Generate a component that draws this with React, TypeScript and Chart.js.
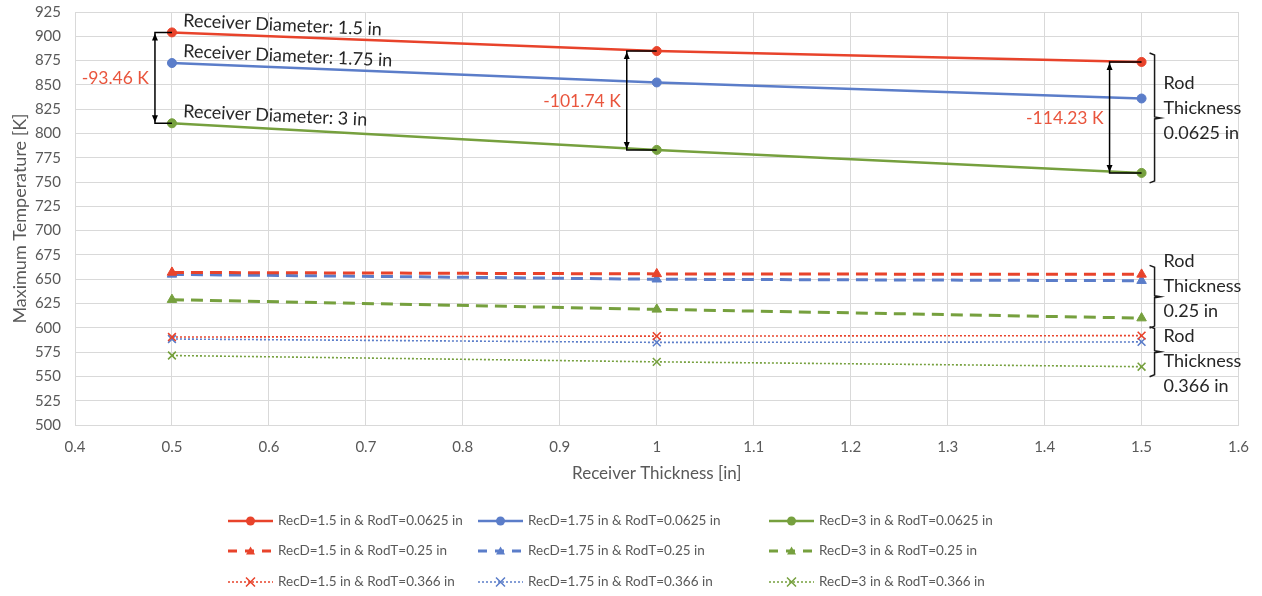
import React, { useEffect, useRef } from 'react';
import { Chart, registerables } from 'chart.js';

Chart.register(...registerables);

// ---------------- data ----------------
const receiverThickness = [0.5, 1.0, 1.5];

const recD15_rodT0625 = [904.0, 884.8, 873.6];
const recD175_rodT0625 = [872.5, 852.5, 836.0];
const recD3_rodT0625 = [810.5, 783.1, 759.4];

const recD15_rodT025 = [657.0, 655.5, 655.0];
const recD175_rodT025 = [655.0, 650.0, 648.5];
const recD3_rodT025 = [629.0, 619.0, 610.0];

const recD15_rodT0366 = [590.5, 591.5, 592.0];
const recD175_rodT0366 = [588.5, 585.0, 585.5];
const recD3_rodT0366 = [571.5, 565.0, 560.0];

const seriesLabels = [
  'RecD=1.5 in & RodT=0.0625 in',
  'RecD=1.75 in & RodT=0.0625 in',
  'RecD=3 in & RodT=0.0625 in',
  'RecD=1.5 in & RodT=0.25 in',
  'RecD=1.75 in & RodT=0.25 in',
  'RecD=3 in & RodT=0.25 in',
  'RecD=1.5 in & RodT=0.366 in',
  'RecD=1.75 in & RodT=0.366 in',
  'RecD=3 in & RodT=0.366 in',
];

const diameterLabels = ['Receiver Diameter: 1.5 in', 'Receiver Diameter: 1.75 in', 'Receiver Diameter: 3 in'];
const differenceLabels = ['-93.46 K', '-101.74 K', '-114.23 K'];
const rodThicknessLabels = ['0.0625 in', '0.25 in', '0.366 in'];

const xMin = 0.4;
const xMax = 1.6;
const xStep = 0.1;
const yMin = 500;
const yMax = 925;
const yStep = 25;

const xTitle = 'Receiver Thickness [in]';
const yTitle = 'Maximum Temperature [K]';

// ---------------- styles ----------------
const RED = '#E8432B';
const BLUE = '#5B7DC9';
const GREEN = '#76A03E';
const ANNOT_RED = '#E9553D';
const GRID = '#D9D9D9';
const TICK = '#595959';
const FONT = 'Lato, "Open Sans", "Noto Sans", sans-serif';

type Kind = 'solid' | 'dash' | 'dot';

function makeSet(label: string, values: number[], color: string, kind: Kind) {
  return {
    label,
    data: receiverThickness.map((x, i) => ({ x, y: values[i] })),
    borderColor: color,
    backgroundColor: color,
    pointBackgroundColor: color,
    pointBorderColor: color,
    borderWidth: kind === 'solid' ? 2.5 : kind === 'dash' ? 3 : 1.6,
    borderDash: kind === 'solid' ? [] : kind === 'dash' ? [12, 7] : [2, 2],
    pointStyle: kind === 'solid' ? 'circle' : kind === 'dash' ? 'triangle' : 'crossRot',
    pointRadius: kind === 'solid' ? 4.5 : 5.5,
    pointBorderWidth: kind === 'dot' ? 1.6 : 1,
    tension: 0,
    fill: false,
    kind,
  };
}

function drawMarker(ctx: CanvasRenderingContext2D, kind: Kind, x: number, y: number, r: number, color: string) {
  ctx.save();
  ctx.setLineDash([]);
  ctx.fillStyle = color;
  ctx.strokeStyle = color;
  ctx.beginPath();
  if (kind === 'solid') {
    ctx.arc(x, y, r, 0, Math.PI * 2);
    ctx.fill();
  } else if (kind === 'dash') {
    ctx.moveTo(x, y - r);
    ctx.lineTo(x + r, y + r * 0.8);
    ctx.lineTo(x - r, y + r * 0.8);
    ctx.closePath();
    ctx.fill();
  } else {
    ctx.lineWidth = 1.5;
    ctx.moveTo(x - r, y - r);
    ctx.lineTo(x + r, y + r);
    ctx.moveTo(x + r, y - r);
    ctx.lineTo(x - r, y + r);
    ctx.stroke();
  }
  ctx.restore();
}

const annotationPlugin = {
  id: 'annotations',
  afterDatasetsDraw(chart: any) {
    const ctx: CanvasRenderingContext2D = chart.ctx;
    const xs = chart.scales.x;
    const ys = chart.scales.y;
    const sets = chart.data.datasets;
    const pt = (di: number, i: number) => ({
      x: xs.getPixelForValue(sets[di].data[i].x),
      y: ys.getPixelForValue(sets[di].data[i].y),
    });

    ctx.save();
    // Receiver diameter labels
    ctx.font = `18px ${FONT}`;
    ctx.fillStyle = '#262626';
    ctx.textAlign = 'left';
    ctx.textBaseline = 'alphabetic';
    for (let d = 0; d < 3; d++) {
      const p = pt(d, 0);
      ctx.save();
      ctx.translate(p.x + 11, p.y - 6);
      ctx.rotate((2.6 * Math.PI) / 180);
      ctx.fillText(diameterLabels[d], 0, 0);
      ctx.restore();
    }

    // Difference arrows
    const arrowOffsets = [17, 30, 32];
    for (let i = 0; i < 3; i++) {
      const top = pt(0, i);
      const bot = pt(2, i);
      const ax = top.x - arrowOffsets[i];
      ctx.strokeStyle = '#000';
      ctx.fillStyle = '#000';
      ctx.lineWidth = 1.5;
      ctx.setLineDash([]);
      ctx.beginPath();
      ctx.moveTo(top.x, top.y);
      ctx.lineTo(ax, top.y);
      ctx.lineTo(ax, bot.y);
      ctx.lineTo(bot.x, bot.y);
      ctx.stroke();
      // arrowheads
      ctx.beginPath();
      ctx.moveTo(ax, top.y + 1);
      ctx.lineTo(ax - 3, top.y + 8);
      ctx.lineTo(ax + 3, top.y + 8);
      ctx.closePath();
      ctx.fill();
      ctx.beginPath();
      ctx.moveTo(ax, bot.y - 1);
      ctx.lineTo(ax - 3, bot.y - 8);
      ctx.lineTo(ax + 3, bot.y - 8);
      ctx.closePath();
      ctx.fill();
      // label
      ctx.font = `17.5px ${FONT}`;
      ctx.fillStyle = ANNOT_RED;
      ctx.textAlign = 'right';
      ctx.textBaseline = 'middle';
      ctx.fillText(differenceLabels[i], ax - 6, (top.y + bot.y) / 2 + 1);
    }

    // Rod thickness brackets
    const textOffsets = [-10, -11, 10];
    for (let g = 0; g < 3; g++) {
      const ptsY = [0, 1, 2].map((k) => pt(g * 3 + k, 2).y);
      const px = pt(g * 3, 2).x;
      const topY = Math.min(...ptsY) - 9;
      const botY = Math.max(...ptsY) + 10;
      const midY = (topY + botY) / 2;
      const bx = px + 13;
      ctx.strokeStyle = '#1a1a1a';
      ctx.lineWidth = 1.5;
      ctx.beginPath();
      ctx.moveTo(bx - 5, topY);
      ctx.lineTo(bx, topY + 2);
      ctx.lineTo(bx, midY - 1);
      ctx.lineTo(bx + 6, midY);
      ctx.lineTo(bx, midY + 1);
      ctx.lineTo(bx, botY - 2);
      ctx.lineTo(bx - 5, botY);
      ctx.stroke();
      ctx.font = `18px ${FONT}`;
      ctx.fillStyle = '#262626';
      ctx.textAlign = 'left';
      ctx.textBaseline = 'middle';
      const cy = midY + textOffsets[g];
      const lines = ['Rod', 'Thickness', rodThicknessLabels[g]];
      lines.forEach((t, k) => ctx.fillText(t, bx + 9, cy + (k - 1) * 25));
    }
    ctx.restore();
  },
  afterDraw(chart: any) {
    // custom legend: 3 columns x 3 rows
    const ctx: CanvasRenderingContext2D = chart.ctx;
    const colX = [228, 478, 769];
    const rowY = [521, 551, 582];
    const lineLen = 45;
    ctx.save();
    chart.data.datasets.forEach((ds: any, i: number) => {
      const x0 = colX[i % 3];
      const y0 = rowY[Math.floor(i / 3)];
      ctx.strokeStyle = ds.borderColor;
      ctx.lineWidth = ds.borderWidth;
      ctx.setLineDash(ds.kind === 'dash' ? [9, 8] : ds.borderDash);
      ctx.beginPath();
      ctx.moveTo(x0, y0);
      ctx.lineTo(x0 + lineLen, y0);
      ctx.stroke();
      drawMarker(ctx, ds.kind, x0 + lineLen / 2, y0, 4.5, ds.borderColor);
      ctx.setLineDash([]);
      ctx.font = `13.5px ${FONT}`;
      ctx.fillStyle = TICK;
      ctx.textAlign = 'left';
      ctx.textBaseline = 'middle';
      ctx.fillText(ds.label, x0 + lineLen + 5, y0);
    });
    ctx.restore();
  },
};

export default function App() {
  const ref = useRef<HTMLCanvasElement | null>(null);

  useEffect(() => {
    if (!ref.current) return;
    const colors = [RED, BLUE, GREEN];
    const groups: [number[], number[], number[]][] = [
      [recD15_rodT0625, recD175_rodT0625, recD3_rodT0625],
      [recD15_rodT025, recD175_rodT025, recD3_rodT025],
      [recD15_rodT0366, recD175_rodT0366, recD3_rodT0366],
    ];
    const kinds: Kind[] = ['solid', 'dash', 'dot'];
    const datasets: any[] = [];
    groups.forEach((g, gi) => {
      g.forEach((vals, ci) => {
        datasets.push(makeSet(seriesLabels[gi * 3 + ci], vals, colors[ci], kinds[gi]));
      });
    });

    const chart = new Chart(ref.current, {
      type: 'line',
      data: { datasets },
      plugins: [annotationPlugin],
      options: {
        responsive: false,
        animation: false,
        events: [],
        layout: { padding: { top: 12, right: 18, bottom: 111, left: 0 } },
        plugins: {
          legend: { display: false },
          tooltip: { enabled: false },
          title: { display: false },
        },
        scales: {
          x: {
            type: 'linear',
            min: xMin,
            max: xMax,
            afterFit: (s: any) => {
              s.height = 60;
            },
            afterBuildTicks: (s: any) => {
              const t = [];
              for (let v = xMin; v <= xMax + 1e-9; v += xStep) t.push({ value: Math.round(v * 10) / 10 });
              s.ticks = t;
            },
            ticks: {
              color: TICK,
              font: { family: FONT, size: 15 },
              padding: 13,
              maxRotation: 0,
              autoSkip: false,
              callback: (v: any) => String(Math.round(Number(v) * 10) / 10),
            },
            grid: { color: GRID, lineWidth: 1, drawTicks: false },
            border: { color: GRID },
            title: {
              display: true,
              text: xTitle,
              color: TICK,
              font: { family: FONT, size: 17 },
              padding: { top: 0, bottom: 1 },
            },
          },
          y: {
            type: 'linear',
            min: yMin,
            max: yMax,
            afterFit: (s: any) => {
              s.width = 75;
              s.paddingTop = 0;
              s.paddingBottom = 0;
            },
            ticks: {
              stepSize: yStep,
              color: TICK,
              font: { family: FONT, size: 15 },
              padding: 14,
              autoSkip: false,
            },
            grid: { color: GRID, lineWidth: 1, drawTicks: false },
            border: { color: GRID },
            title: {
              display: true,
              text: yTitle,
              color: TICK,
              font: { family: FONT, size: 18 },
              padding: { top: 9, bottom: 0 },
            },
          },
        },
      } as any,
    });
    return () => chart.destroy();
  }, []);

  return (
    <div style={{ position: 'absolute', left: 0, top: 0, width: 1262, height: 596, background: '#fff' }}>
      <canvas ref={ref} width={1262} height={596} style={{ display: 'block' }} />
    </div>
  );
}
